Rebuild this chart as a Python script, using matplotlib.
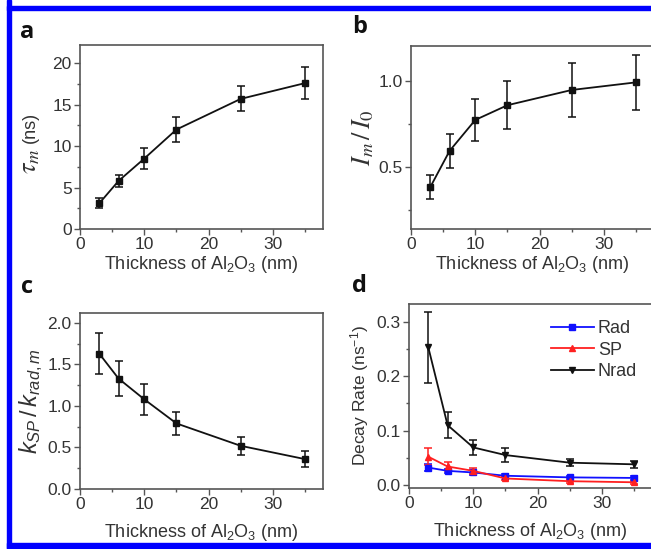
import numpy as np
import matplotlib
matplotlib.use("Agg")
import matplotlib.pyplot as plt
from matplotlib.patches import Rectangle
from matplotlib.ticker import MultipleLocator

plt.rcParams['font.family'] = ['Liberation Sans', 'DejaVu Sans']
plt.rcParams['mathtext.fontset'] = 'custom'
plt.rcParams['mathtext.rm'] = 'Liberation Sans'
plt.rcParams['mathtext.it'] = 'Liberation Sans:italic'
plt.rcParams['mathtext.bf'] = 'Liberation Sans:bold'

# data
thickness = [3, 6, 10, 15, 25, 35]

tau_m = [3.1, 5.8, 8.5, 12.0, 15.7, 17.6]
tau_err = [0.6, 0.75, 1.25, 1.5, 1.5, 1.9]

ratio_I = [0.385, 0.594, 0.773, 0.858, 0.946, 0.99]
ratio_I_err = [0.07, 0.1, 0.122, 0.137, 0.157, 0.16]

k_ratio = [1.63, 1.33, 1.08, 0.79, 0.52, 0.36]
k_ratio_err = [0.25, 0.21, 0.19, 0.135, 0.105, 0.1]

rad = [0.032, 0.026, 0.023, 0.017, 0.014, 0.013]
rad_err = [0.006, 0.004, 0.004, 0.003, 0.003, 0.003]
sp = [0.052, 0.034, 0.026, 0.012, 0.007, 0.005]
sp_err = [0.016, 0.008, 0.005, 0.003, 0.003, 0.003]
nrad = [0.253, 0.110, 0.069, 0.055, 0.041, 0.038]
nrad_err = [0.065, 0.024, 0.014, 0.013, 0.0065, 0.006]

W, H = 651, 549
fig = plt.figure(figsize=(W / 100, H / 100), dpi=100)

def px_axes(left, top, right, bottom):
    return fig.add_axes([left / W, 1 - bottom / H, (right - left) / W, (bottom - top) / H])

ax_a = px_axes(80, 45, 323, 229)
ax_b = px_axes(411, 46, 654, 229)
ax_c = px_axes(80, 313, 323, 489)
ax_d = px_axes(409, 304, 652, 488)

spine_col = '#555555'
text_col = '#333333'
xlabel = 'Thickness of Al$_2$O$_3$ (nm)'

def style(ax, ymaj, ymin, xpad):
    for s in ax.spines.values():
        s.set_color(spine_col)
        s.set_linewidth(1.2)
    ax.set_xlim(0, 37.8)
    ax.xaxis.set_major_locator(MultipleLocator(10))
    ax.xaxis.set_minor_locator(MultipleLocator(5))
    ax.yaxis.set_major_locator(MultipleLocator(ymaj))
    ax.yaxis.set_minor_locator(MultipleLocator(ymin))
    ax.tick_params(which='both', direction='out', color=spine_col, width=1,
                   labelsize=12.5, labelcolor=text_col, top=False, right=False)
    ax.tick_params(which='major', length=4, pad=2)
    ax.tick_params(which='minor', length=2.5)
    ax.set_xlabel(xlabel, fontsize=13, color=text_col, labelpad=xpad)

ebkw = dict(capsize=3, elinewidth=1.1, capthick=1.1, lw=1.3)

# a
ax_a.errorbar(thickness, tau_m, yerr=tau_err, color='#111111', marker='s', ms=4, **ebkw)
style(ax_a, 5, 2.5, 1)
ax_a.set_ylim(0, 22.2)
# y label in two pieces so the tau can be larger than "(ns)"
ax_a.text(-0.205, 0.37, r'$\tau_m$', transform=ax_a.transAxes, rotation=90,
          fontsize=19, color=text_col, ha='center', va='center',
          math_fontfamily='stix')
ax_a.text(-0.205, 0.55, '(ns)', transform=ax_a.transAxes, rotation=90,
          fontsize=13, color=text_col, ha='center', va='center')

# b
ax_b.errorbar(thickness, ratio_I, yerr=ratio_I_err, color='#111111', marker='s', ms=4, **ebkw)
style(ax_b, 0.5, 0.25, 1)
ax_b.set_ylim(0.143, 1.2)
ax_b.set_ylabel(r'$I_m\,/\,I_0$', fontsize=19, color=text_col, labelpad=2,
                math_fontfamily='stix')

# c
ax_c.errorbar(thickness, k_ratio, yerr=k_ratio_err, color='#111111', marker='s', ms=4, **ebkw)
style(ax_c, 0.5, 0.25, 7)
ax_c.set_ylim(0, 2.12)
ax_c.set_ylabel(r'$k_{SP}\,/\,k_{rad,m}$', fontsize=17, color=text_col, labelpad=2)

# d
ax_d.errorbar(thickness, rad, yerr=rad_err, color='#1010ff', marker='s', ms=4, label='Rad', **ebkw)
ax_d.errorbar(thickness, sp, yerr=sp_err, color='#ff2020', marker='^', ms=5, label='SP', **ebkw)
ax_d.errorbar(thickness, nrad, yerr=nrad_err, color='#111111', marker='v', ms=5, label='Nrad', **ebkw)
style(ax_d, 0.1, 0.05, 7)
ax_d.set_ylim(-0.0055, 0.3325)
ax_d.set_ylabel('Decay Rate (ns$^{-1}$)', fontsize=12.5, color=text_col, labelpad=4)
handles, labels = ax_d.get_legend_handles_labels()
handles = [h[0] for h in handles]
ax_d.legend(handles, labels, loc='upper right', frameon=False, fontsize=13,
            handlelength=2.4, handletextpad=0.2, labelspacing=0.25,
            bbox_to_anchor=(1.005, 1.0), labelcolor=text_col)

# panel letters
for lab, x, y in [('a', 20, 38), ('b', 352, 33), ('c', 21, 293), ('d', 352, 292)]:
    fig.text(x / W, 1 - y / H, lab, fontsize=17, fontweight='bold',
             family='Open Sans', va='baseline', ha='left', color='#111111')

# blue frame (left, top, bottom)
blue = '#0000ff'
fig.add_artist(Rectangle((7 / W, 0), 4 / W, 1, transform=fig.transFigure, color=blue))
fig.add_artist(Rectangle((7 / W, 1 - 10 / H), 1, 4 / H, transform=fig.transFigure, color=blue))
fig.add_artist(Rectangle((7 / W, 1 - 548 / H), 1, 5 / H, transform=fig.transFigure, color=blue))

fig.savefig('out.png', dpi=100)
